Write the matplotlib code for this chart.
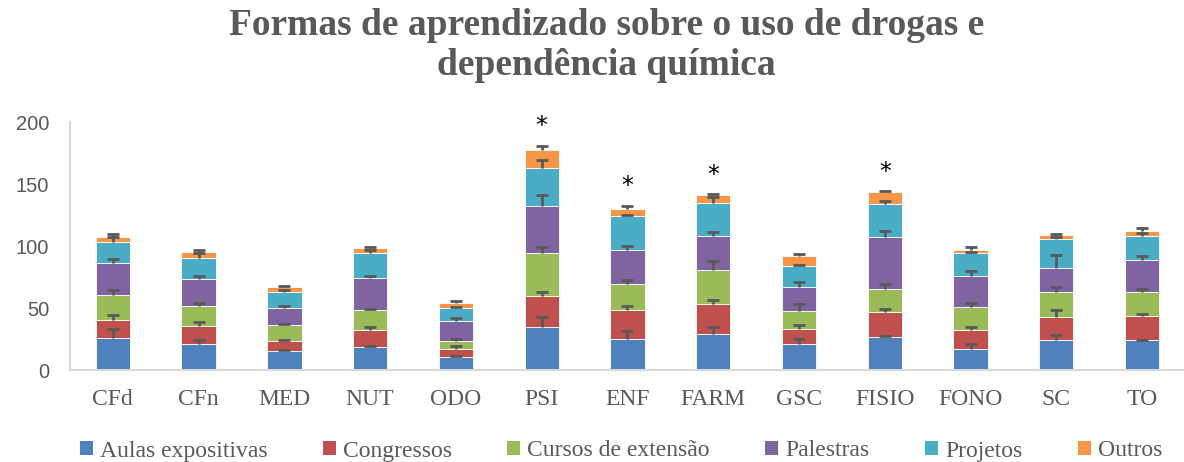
import numpy as np
import matplotlib.pyplot as plt
from matplotlib.patches import Patch

cursos = ["CFd", "CFn", "MED", "NUT", "ODO", "PSI", "ENF", "FARM", "GSC", "FISIO", "FONO", "SC", "TO"]
series = ["Aulas expositivas", "Congressos", "Cursos de extensão", "Palestras", "Projetos", "Outros"]
colors = ["#4F81BD", "#C0504D", "#9BBB59", "#8064A2", "#4BACC6", "#F79646"]

# segment values (stacked)
aulas = [26.0, 21.2, 15.0, 18.2, 10.7, 34.3, 25.4, 28.9, 21.2, 26.5, 16.9, 24.1, 24.1]
congressos = [14.4, 14.4, 8.6, 13.9, 6.4, 25.4, 22.8, 24.4, 11.7, 20.1, 15.0, 18.7, 19.8]
cursos_ext = [19.8, 16.1, 13.1, 16.6, 6.2, 34.3, 21.1, 27.6, 14.8, 19.0, 19.0, 20.4, 18.8]
palestras = [26.5, 21.4, 13.4, 25.5, 16.6, 38.0, 27.4, 27.0, 19.0, 41.5, 25.1, 19.0, 25.9]
projetos = [16.6, 16.9, 12.8, 19.8, 9.9, 31.3, 27.3, 27.0, 17.1, 26.5, 18.0, 23.8, 19.3]
outros = [4.1, 4.8, 3.8, 4.0, 4.3, 13.9, 5.9, 5.9, 7.8, 9.6, 2.9, 3.0, 4.5]

# upper error bars for each segment
err_aulas = [7.0, 3.2, 1.3, 0.8, 0.5, 8.8, 5.9, 5.4, 4.0, 0.8, 4.0, 4.0, 0.3]
err_congressos = [3.7, 2.9, 0.8, 2.7, 1.9, 3.2, 3.5, 3.2, 3.5, 2.4, 2.7, 5.4, 1.3]
err_cursos = [4.5, 2.1, 0.5, 0.5, 2.1, 5.1, 2.9, 7.0, 5.6, 3.5, 3.5, 3.5, 2.7]
err_palestras = [2.7, 2.7, 1.6, 1.9, 2.1, 9.1, 3.7, 3.2, 4.3, 5.1, 3.5, 10.4, 3.7]
err_projetos = [3.7, 4.3, 1.3, 2.7, 1.3, 6.2, 1.3, 4.8, 1.1, 2.9, 0.8, 1.1, 2.4]
err_outros = [1.9, 2.1, 1.1, 1.1, 1.6, 3.7, 2.4, 0.8, 1.6, 0.8, 2.1, 0.5, 1.9]

significativo = [False, False, False, False, False, True, True, True, False, True, False, False, False]

valores = [aulas, congressos, cursos_ext, palestras, projetos, outros]
erros = [err_aulas, err_congressos, err_cursos, err_palestras, err_projetos, err_outros]

gray = "#595959"
x = np.arange(len(cursos))
width = 0.4

fig = plt.figure(figsize=(11.84, 4.62), dpi=100)
ax = fig.add_axes([0.0591, 0.1991, 0.9417, 0.5368])

bottom = np.zeros(len(cursos))
for vals, errs, color, name in zip(valores, erros, colors, series):
    vals = np.array(vals)
    ax.bar(x, vals, width, bottom=bottom, color=color, edgecolor="white",
           linewidth=0.6, label=name, zorder=2)
    top = bottom + vals
    ax.vlines(x, top, top + np.array(errs), color=gray, linewidth=2, zorder=3)
    ax.hlines(top + np.array(errs), x - 0.07, x + 0.07, color=gray, linewidth=2, zorder=3)
    bottom = top

# asterisks over significant courses
top_err = bottom + np.array(err_outros)
for xi, yi, sig in zip(x, top_err, significativo):
    if sig:
        ax.text(xi, yi + 16, "*", ha="center", va="center", fontsize=17,
                color="black", family="DejaVu Sans")

ax.set_xlim(-0.5, len(cursos) - 0.5)
ax.set_ylim(0, 200)
ax.set_yticks([0, 50, 100, 150, 200])
ax.set_xticks(x)
ax.set_xticklabels(cursos, fontsize=17, family="Liberation Serif", color=gray)
for lab in ax.get_yticklabels():
    lab.set_fontsize(14.5)
    lab.set_family("Liberation Sans")
    lab.set_color(gray)
ax.tick_params(axis="both", length=0)
ax.tick_params(axis="y", pad=15)
ax.tick_params(axis="x", pad=14)

for s in ["top", "right"]:
    ax.spines[s].set_visible(False)
for s in ["left", "bottom"]:
    ax.spines[s].set_color("#D9D9D9")
    ax.spines[s].set_linewidth(1.5)

fig.text(0.512, 1 - 8 / 462, "Formas de aprendizado sobre o uso de drogas e\ndependência química",
         ha="center", va="top", fontsize=27, fontweight="bold", family="Liberation Serif",
         color=gray, linespacing=1.2)

handles = [Patch(facecolor=c, edgecolor="none") for c in colors]
leg = fig.legend(handles, series, loc="center", bbox_to_anchor=(621 / 1184, 1 - 451 / 462),
                 ncol=6, frameon=False, handlelength=0.55, handleheight=0.55,
                 handletextpad=0.3, columnspacing=2.35, fontsize=17)
for t in leg.get_texts():
    t.set_color(gray)
    t.set_family("Liberation Serif")

fig.savefig("out.png", dpi=100)
